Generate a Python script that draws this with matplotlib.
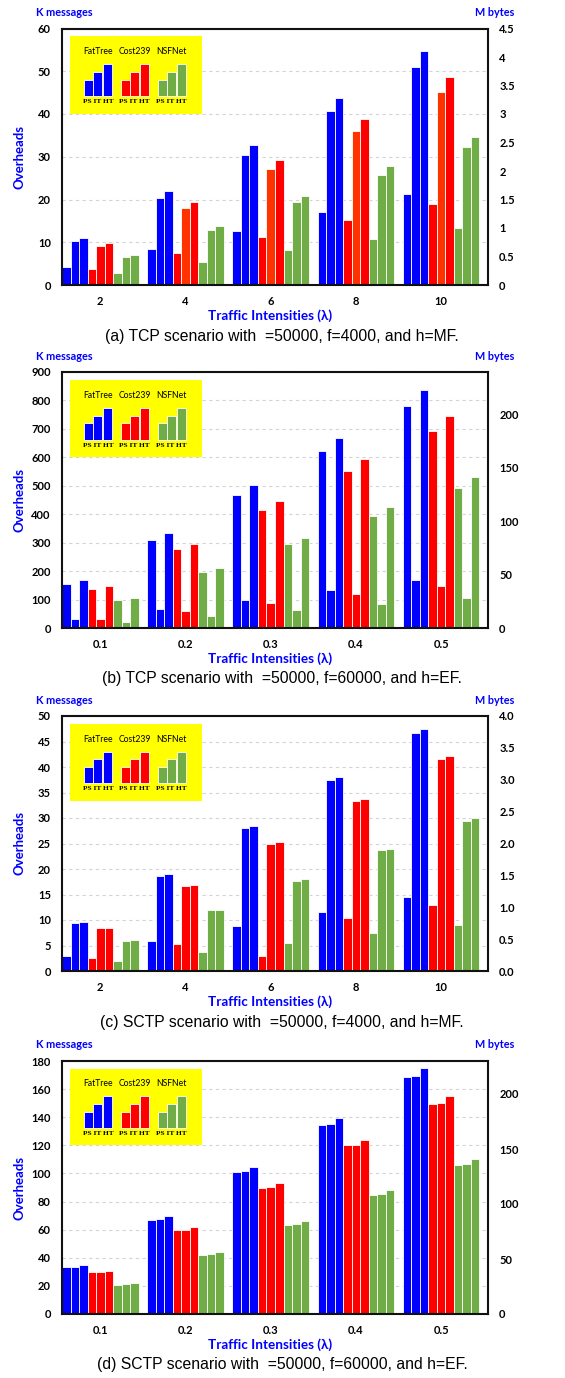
import matplotlib
matplotlib.use("Agg")
import matplotlib.pyplot as plt
import numpy as np

plt.rcParams['font.family'] = ['Lato', 'DejaVu Sans']

topologies = ['FatTree', 'Cost239', 'NSFNet']
methods = ['PS', 'IT', 'HT']
lam_mf = ['2', '4', '6', '8', '10']
lam_ef = ['0.1', '0.2', '0.3', '0.4', '0.5']

# values read in left-axis units (K messages), one row per traffic intensity: PS, IT, HT
tcp_mf_fattree = [[4.2, 10.2, 11.0], [8.5, 20.4, 22.0], [12.7, 30.5, 32.8], [17.0, 40.7, 43.8], [21.3, 50.9, 54.8]]
tcp_mf_cost239 = [[3.8, 9.1, 9.8], [7.6, 18.1, 19.5], [11.3, 27.1, 29.2], [15.1, 36.1, 38.9], [18.9, 45.2, 48.6]]
tcp_mf_nsfnet = [[2.7, 6.5, 7.0], [5.4, 12.9, 13.9], [8.1, 19.3, 20.8], [10.8, 25.7, 27.8], [13.4, 32.2, 34.6]]

tcp_ef_fattree = [[155, 33, 168], [311, 68, 335], [466, 100, 502], [622, 134, 668], [780, 168, 838]]
tcp_ef_cost239 = [[138, 30, 148], [276, 59, 297], [415, 89, 446], [553, 119, 594], [692, 149, 744]]
tcp_ef_nsfnet = [[97, 20, 105], [198, 42, 212], [294, 62, 318], [393, 85, 424], [493, 106, 530]]

sctp_mf_fattree = [[2.9, 9.4, 9.6], [5.9, 18.7, 19.0], [8.8, 28.0, 28.5], [11.6, 37.5, 38.0], [14.5, 46.6, 47.4]]
sctp_mf_cost239 = [[2.6, 8.4, 8.5], [5.2, 16.6, 16.8], [3.0, 24.9, 25.3], [10.4, 33.4, 33.8], [12.9, 41.5, 42.1]]
sctp_mf_nsfnet = [[1.9, 5.9, 6.0], [3.7, 11.9, 12.05], [5.5, 17.7, 18.0], [7.4, 23.7, 24.0], [9.1, 29.5, 30.0]]

sctp_ef_fattree = [[33.3, 33.7, 34.7], [67.2, 67.3, 69.6], [101.0, 101.4, 104.5], [134.5, 135.0, 139.8], [168.3, 169.3, 174.8]]
sctp_ef_cost239 = [[29.7, 29.8, 30.9], [59.6, 59.9, 61.8], [89.5, 90.3, 93.1], [120.0, 120.1, 124.0], [149.3, 149.8, 154.8]]
sctp_ef_nsfnet = [[20.9, 21.0, 21.9], [42.3, 42.5, 43.9], [63.4, 63.9, 66.3], [84.8, 85.5, 88.1], [105.9, 106.9, 110.2]]

captions = ['(a) TCP scenario with  =50000, f=4000, and h=MF.',
            '(b) TCP scenario with  =50000, f=60000, and h=EF.',
            '(c) SCTP scenario with  =50000, f=4000, and h=MF.',
            '(d) SCTP scenario with  =50000, f=60000, and h=EF.']

BLUE, RED, ORANGE, GREEN = '#0000FF', '#FF0000', '#FF3300', '#70AD47'
colors = [BLUE, RED, GREEN]
# in panel (a) the Cost239 IT bars are drawn in orange-red except at lambda=2
tcp_mf_it_colors = [RED, ORANGE, ORANGE, ORANGE, ORANGE]

panels = [
    dict(data=[tcp_mf_fattree, tcp_mf_cost239, tcp_mf_nsfnet], labels=lam_mf,
         ymax=60, ystep=10, rmax=4.5, rticks=np.arange(0, 4.51, 0.5), rfmt='{:g}', top=28.5, bottom=285),
    dict(data=[tcp_ef_fattree, tcp_ef_cost239, tcp_ef_nsfnet], labels=lam_ef,
         ymax=900, ystep=100, rmax=240, rticks=np.arange(0, 201, 50), rfmt='{:g}', top=372, bottom=628),
    dict(data=[sctp_mf_fattree, sctp_mf_cost239, sctp_mf_nsfnet], labels=lam_mf,
         ymax=50, ystep=5, rmax=4.0, rticks=np.arange(0, 4.01, 0.5), rfmt='{:.1f}', top=716, bottom=971),
    dict(data=[sctp_ef_fattree, sctp_ef_cost239, sctp_ef_nsfnet], labels=lam_ef,
         ymax=180, ystep=20, rmax=230, rticks=np.arange(0, 201, 50), rfmt='{:g}', top=1061, bottom=1314),
]

legend_icon = [0.21, 0.31, 0.41]

W, H = 565, 1378
fig = plt.figure(figsize=(W / 100, H / 100), dpi=100)
left_px, right_px = 62, 488

for k, p in enumerate(panels):
    ax = fig.add_axes([left_px / W, 1 - p['bottom'] / H, (right_px - left_px) / W, (p['bottom'] - p['top']) / H])
    groups = np.arange(len(p['labels']))
    for t, series in enumerate(p['data']):
        vals = np.array(series)
        for m in range(3):
            x = groups + (t * 3 + m - 4) * 0.1
            c = colors[t]
            if k == 0 and t == 1 and m == 1:
                c = tcp_mf_it_colors
            ax.bar(x, vals[:, m], width=0.1, color=c, edgecolor='white', linewidth=0.6, zorder=2)
    ax.set_xlim(-0.45, 4.55)
    ax.set_ylim(0, p['ymax'])
    ax.set_yticks(np.arange(0, p['ymax'] + 0.01, p['ystep']))
    ax.set_xticks(groups)
    ax.set_xticklabels(p['labels'])
    ax.yaxis.grid(True, linestyle=(0, (3, 3)), color='#d4d4d4', linewidth=0.8)
    ax.set_axisbelow(True)
    ax.tick_params(length=0, labelsize=8, pad=8)
    for lab in ax.get_xticklabels() + ax.get_yticklabels():
        lab.set_fontweight('bold')
    for s in ax.spines.values():
        s.set_linewidth(1.5)
        s.set_color('#111111')

    ax2 = ax.twinx()
    ax2.set_ylim(0, p['rmax'])
    ax2.set_yticks(p['rticks'])
    ax2.set_yticklabels([p['rfmt'].format(v) for v in p['rticks']], fontweight='bold')
    ax2.tick_params(length=0, labelsize=8, pad=8)
    for s in ax2.spines.values():
        s.set_visible(False)

    # legend box
    ins = ax.inset_axes([0.019, 0.668, 0.31, 0.302])
    ins.set_facecolor('#FFFF00')
    ins.set_xlim(0, 1)
    ins.set_ylim(0, 1)
    ins.set_xticks([])
    ins.set_yticks([])
    for s in ins.spines.values():
        s.set_visible(False)
    for t, (name, cx) in enumerate(zip(topologies, [0.21, 0.49, 0.77])):
        ins.text(cx, 0.80, name, ha='center', va='center', fontsize=6.2, color='black')
        ins.bar([cx - 0.07, cx, cx + 0.07], legend_icon, bottom=0.225, width=0.068,
                color=colors[t], edgecolor='white', linewidth=0.6)
        ins.text(cx, 0.155, ' '.join(methods), ha='center', va='center', fontsize=5.3,
                 family='Liberation Serif', fontweight='bold')

    top, bottom = p['top'], p['bottom']
    fig.text(64 / W, 1 - (top - 16) / H, 'K messages', ha='center', va='center',
             color=BLUE, fontsize=7.8, fontweight='bold')
    fig.text(495 / W, 1 - (top - 16) / H, 'M bytes', ha='center', va='center',
             color=BLUE, fontsize=7.8, fontweight='bold')
    fig.text(20 / W, 1 - (top + bottom) / 2 / H, 'Overheads', ha='center', va='center',
             rotation=90, color=BLUE, fontsize=9.5, fontweight='bold')
    fig.text(270 / W, 1 - (bottom + 31) / H, 'Traffic Intensities (λ)',
             ha='center', va='center', color=BLUE, fontsize=9.7, fontweight='bold')
    fig.text(282 / W, 1 - (bottom + 51) / H, captions[k],
             ha='center', va='center', fontsize=11.3, family='Liberation Sans')

fig.savefig('out.png', dpi=100)
